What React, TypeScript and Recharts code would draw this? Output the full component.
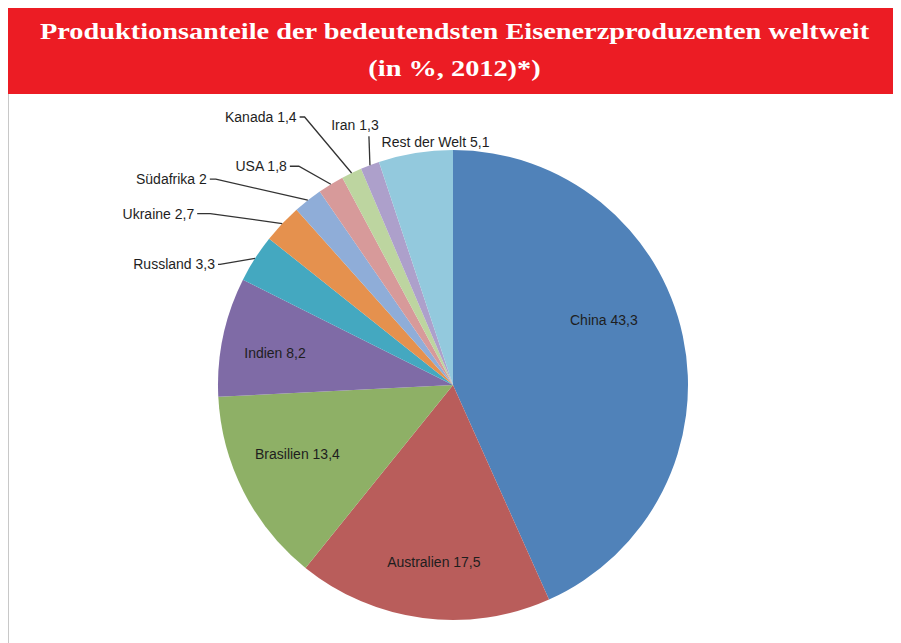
import { PieChart, Pie, Cell } from "recharts";

const countries = [
  "China",
  "Australien",
  "Brasilien",
  "Indien",
  "Russland",
  "Ukraine",
  "Südafrika",
  "USA",
  "Kanada",
  "Iran",
  "Rest der Welt",
];
const shares = [43.3, 17.5, 13.4, 8.2, 3.3, 2.7, 2, 1.8, 1.4, 1.3, 5.1];

const COLORS = [
  "#5082b9",
  "#b95d5b",
  "#8eb066",
  "#7f6ba6",
  "#44a8c0",
  "#e5914e",
  "#8fadd8",
  "#d79a9a",
  "#bdd5a0",
  "#ada0cb",
  "#93c9dd",
];

const data = countries.map((name, i) => ({ name, value: shares[i] }));

// label placement per slice: inside labels get an offset from the 0.7r point,
// outside labels get an elbow offset from the slice edge plus a short tail
type Place =
  | { kind: "in"; dx: number; dy: number }
  | { kind: "out"; ex: number; ey: number; h: number }
  | { kind: "up"; ex: number; ey: number; tx: number; ty: number }
  | { kind: "free"; tx: number; ty: number };

const PLACES: Place[] = [
  { kind: "in", dx: -10, dy: -31 },
  { kind: "in", dx: 2, dy: 14 },
  { kind: "in", dx: -9, dy: -6 },
  { kind: "in", dx: -17, dy: 2 },
  { kind: "out", ex: -35, ey: 6, h: 2 },
  { kind: "out", ex: -72, ey: -10, h: 13 },
  { kind: "out", ex: -92, ey: -21, h: 6 },
  { kind: "out", ex: -32, ey: -18, h: 9 },
  { kind: "out", ex: -47, ey: -56, h: 5 },
  { kind: "up", ex: -1, ey: -29, tx: -15, ty: -40 },
  { kind: "free", tx: 20, ty: -11 },
];

const RADIAN = Math.PI / 180;
const fmt = (v: number) => String(v).replace(".", ",");

const renderLabel = (props: any) => {
  const { cx, cy, midAngle, outerRadius, index, name, value } = props;
  const cos = Math.cos(-midAngle * RADIAN);
  const sin = Math.sin(-midAngle * RADIAN);
  const text = `${name} ${fmt(value)}`;
  const p = PLACES[index];
  const style = {
    fontFamily: "'Liberation Sans', Arial, sans-serif",
    fontSize: 14,
    fill: "#1e1e1e",
  };
  if (p.kind === "in") {
    const r = outerRadius * 0.7;
    return (
      <text
        x={cx + r * cos + p.dx}
        y={cy + r * sin + p.dy}
        textAnchor="middle"
        dominantBaseline="central"
        style={style}
      >
        {text}
      </text>
    );
  }
  const x0 = cx + outerRadius * cos;
  const y0 = cy + outerRadius * sin;
  if (p.kind === "free") {
    return (
      <text x={x0 + p.tx} y={y0 + p.ty} textAnchor="middle" dominantBaseline="central" style={style}>
        {text}
      </text>
    );
  }
  if (p.kind === "up") {
    return (
      <g>
        <polyline
          points={`${x0},${y0} ${x0 + p.ex},${y0 + p.ey}`}
          fill="none"
          stroke="#333"
          strokeWidth={1.3}
        />
        <text x={x0 + p.tx} y={y0 + p.ty} textAnchor="middle" dominantBaseline="central" style={style}>
          {text}
        </text>
      </g>
    );
  }
  const x1 = x0 + p.ex;
  const y1 = y0 + p.ey;
  const x2 = x1 - p.h;
  return (
    <g>
      <polyline
        points={`${x0},${y0} ${x1},${y1} ${x2},${y1}`}
        fill="none"
        stroke="#333"
        strokeWidth={1.3}
      />
      <text x={x2 - 3} y={y1} textAnchor="end" dominantBaseline="central" style={style}>
        {text}
      </text>
    </g>
  );
};

export default function App() {
  return (
    <div style={{ position: "relative", width: 893, height: 635, background: "#fff" }}>
      <div
        style={{
          position: "absolute",
          left: 0,
          top: 0,
          width: 893,
          height: 86,
          background: "#ec1c24",
        }}
      >
        <div
          style={{
            color: "#fff",
            fontFamily: "'Liberation Serif', serif",
            fontWeight: "bold",
            fontSize: 24,
            lineHeight: "37px",
            textAlign: "center",
            whiteSpace: "nowrap",
            paddingTop: 5,
            transform: "scaleX(1.18)",
            transformOrigin: "center",
          }}
        >
          Produktionsanteile der bedeutendsten Eisenerzproduzenten weltweit
          <br />
          (in %, 2012)*)
        </div>
      </div>
      <div
        style={{
          position: "absolute",
          left: 0,
          top: 86,
          width: 1,
          height: 549,
          background: "#c8c8c8",
        }}
      />
      <div style={{ position: "absolute", left: 0, top: 86 }}>
        <PieChart
          width={893}
          height={549}
          margin={{ top: 0, right: 0, bottom: 0, left: 0 }}
        >
          <Pie
            data={data}
            dataKey="value"
            nameKey="name"
            cx={445}
            cy={291}
            outerRadius={235}
            startAngle={90}
            endAngle={-270}
            stroke="none"
            labelLine={false}
            label={renderLabel}
            isAnimationActive={false}
          >
            {data.map((entry, index) => (
              <Cell key={`cell-${index}`} fill={COLORS[index]} />
            ))}
          </Pie>
        </PieChart>
      </div>
    </div>
  );
}
